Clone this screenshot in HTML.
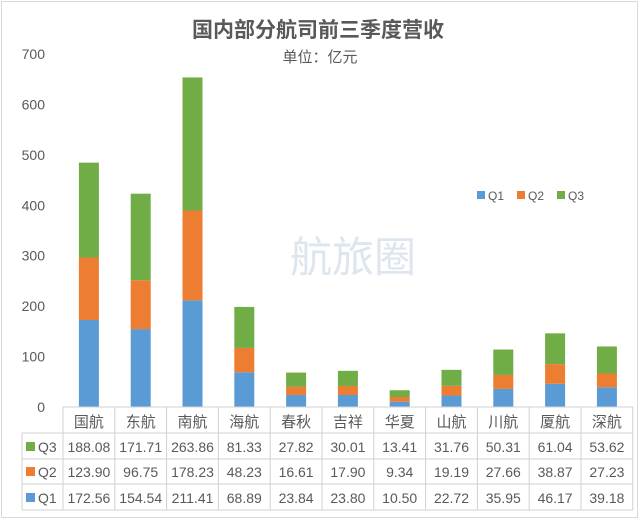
<!DOCTYPE html>
<html><head><meta charset="utf-8"><style>
body{margin:0;background:#fff;}
svg{display:block;font-family:"Liberation Sans","Noto Sans CJK SC",sans-serif;}
</style></head><body>
<svg id="c" width="640" height="521">
<rect x="1.5" y="1.5" width="636" height="516" fill="#fff" stroke="#d9d9d9"/>
<text x="318" y="37" text-anchor="middle" font-size="21" font-weight="bold" fill="#595959">国内部分航司前三季度营收</text>
<text x="320" y="62" text-anchor="middle" font-size="15" fill="#595959">单位：亿元</text>
<g id="g"></g>
</svg>
<script>
const categories=["国航","东航","南航","海航","春秋","吉祥","华夏","山航","川航","厦航","深航"];
const q1=[172.56,154.54,211.41,68.89,23.84,23.80,10.50,22.72,35.95,46.17,39.18];
const q2=[123.90,96.75,178.23,48.23,16.61,17.90,9.34,19.19,27.66,38.87,27.23];
const q3=[188.08,171.71,263.86,81.33,27.82,30.01,13.41,31.76,50.31,61.04,53.62];
const q1Labels=["172.56","154.54","211.41","68.89","23.84","23.80","10.50","22.72","35.95","46.17","39.18"];
const q2Labels=["123.90","96.75","178.23","48.23","16.61","17.90","9.34","19.19","27.66","38.87","27.23"];
const q3Labels=["188.08","171.71","263.86","81.33","27.82","30.01","13.41","31.76","50.31","61.04","53.62"];
const yTicks=[0,100,200,300,400,500,600,700];
const NS="http://www.w3.org/2000/svg",g=document.getElementById('g');
const X0=63,CW=51.8,Y0=407,YT=54,YMAX=700;
const y=v=>Y0-(v/YMAX)*(Y0-YT);
const cx=i=>X0+CW*(i+0.5);
function mk(t,a,txt){const e=document.createElementNS(NS,t);for(const k in a)e.setAttribute(k,a[k]);if(txt!==undefined)e.textContent=txt;g.appendChild(e);return e;}
yTicks.forEach(t=>{const e=mk('text',{x:45,y:y(t)+5,'text-anchor':'end','font-size':14,fill:'#595959'},t);

});
const colors=["#5B9BD5","#ED7D31","#70AD47"];
const series=[q1,q2,q3],names=["q1","q2","q3"];
categories.forEach((c,i)=>{let base=0;series.forEach((s,k)=>{const r=mk('rect',{x:cx(i)-10,y:y(base+s[i]),width:20,height:y(base)-y(base+s[i]),fill:colors[k]});


base+=s[i];});});
// table
const L=mk('line',{x1:X0,y1:Y0,x2:X0+CW*11,y2:Y0,stroke:'#bfbfbf'});


const rows=[407,433,459,484,510];
const gs='#d0d0d0';
rows.forEach((ry,j)=>{const l=mk('line',{x1:j===0?X0:22,y1:ry,x2:X0+CW*11,y2:ry,stroke:gs});

});
for(let i=0;i<=11;i++){const l=mk('line',{x1:X0+CW*i,y1:407,x2:X0+CW*i,y2:510,stroke:gs});

}
const l2=mk('line',{x1:22,y1:433,x2:22,y2:510,stroke:gs});


categories.forEach((c,i)=>{const t=mk('text',{x:cx(i),y:427,'text-anchor':'middle','font-size':15,fill:'#595959'},c);

});
const rowLabels=[["Q3",q3Labels,"#70AD47",452],["Q2",q2Labels,"#ED7D31",477],["Q1",q1Labels,"#5B9BD5",503]];
rowLabels.forEach(([n,vals,col,ty])=>{
const s=mk('rect',{x:26,y:ty-10,width:9,height:9,fill:col});


const t=mk('text',{x:38,y:ty,'font-size':14,fill:'#595959'},n);


vals.forEach((v,i)=>{const e=mk('text',{x:cx(i),y:ty,'text-anchor':'middle','font-size':14,fill:'#595959'},v);

});});
// legend
[["Q1","#5B9BD5",477],["Q2","#ED7D31",517],["Q3","#70AD47",557]].forEach(([n,col,lx])=>{
const s=mk('rect',{x:lx,y:191,width:8,height:8,fill:col});


const t=mk('text',{x:lx+11,y:200,'font-size':12,fill:'#595959'},n);

});
const w=mk('text',{x:290,y:272,'font-size':42,fill:'#dde6ef'},"航旅圈");


</script>
</body></html>
